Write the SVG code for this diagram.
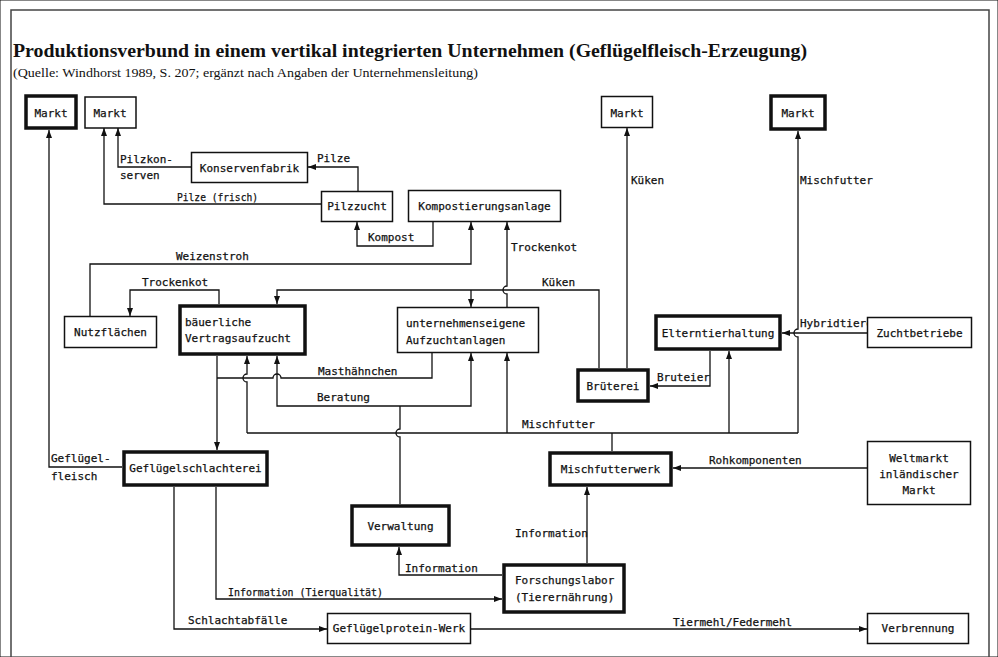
<svg xmlns="http://www.w3.org/2000/svg" width="998" height="657" viewBox="0 0 998 657">
<style>
text{font-family:"DejaVu Sans Mono","Liberation Mono",monospace;font-size:11px;fill:#111;stroke:#111;stroke-width:0.25}
.c{text-anchor:middle}
.title{font-family:"Liberation Serif","Times New Roman",serif;font-weight:bold;font-size:18px;stroke:none}
.sub{font-family:"Liberation Serif","Times New Roman",serif;font-size:12px;stroke:none}
rect{fill:#fff;stroke:#111}
.thin{stroke-width:1.5}
.thick{stroke-width:3.5}
#connectors path{fill:none;stroke:#111;stroke-width:1.3}
.frame{fill:none;stroke:#444;stroke-width:1.5}
</style>
<defs>
<marker id="a" markerWidth="8" markerHeight="6" refX="8" refY="3" orient="auto" markerUnits="userSpaceOnUse"><path d="M0,0 L8,3 L0,6 z" fill="#111"/></marker>
</defs>
<rect width="998" height="657" fill="#fff" stroke="none"/>
<path class="frame" d="M11,657 V10 H989 V657"/>
<text class="title" x="13" y="57" textLength="794" lengthAdjust="spacingAndGlyphs">Produktionsverbund in einem vertikal integrierten Unternehmen (Geflügelfleisch-Erzeugung)</text>
<text class="sub" x="13" y="77" textLength="465" lengthAdjust="spacingAndGlyphs">(Quelle: Windhorst 1989, S. 207; ergänzt nach Angaben der Unternehmensleitung)</text>

<g id="connectors">
<path d="M122,467 H49 V130" marker-end="url(#a)"/>
<path d="M321,204 H104 V128" marker-end="url(#a)"/>
<path d="M191,167 H118 V128" marker-end="url(#a)"/>
<path d="M358,191 V167 H308" marker-end="url(#a)"/>
<path d="M433,222 V246 H357 V222" marker-end="url(#a)"/>
<path d="M90,316 V264 H471 V222" marker-end="url(#a)"/>
<path d="M507,307 V294 a4,4 0 0 1 0,-8 V222" marker-end="url(#a)"/>
<path d="M599,368 V290 H277 V304" marker-end="url(#a)"/>
<path d="M471,290 V307" marker-end="url(#a)"/>
<path d="M219,304 V290 H130 V316" marker-end="url(#a)"/>
<path d="M627,368 V128" marker-end="url(#a)"/>
<path d="M798,433 V337 a4,4 0 0 1 0,-8 V131" marker-end="url(#a)"/>
<path d="M867,333 H782" marker-end="url(#a)"/>
<path d="M710,351 V386 H650" marker-end="url(#a)"/>
<path d="M612,451 V433"/>
<path d="M247,433 H798"/>
<path d="M729,433 V351" marker-end="url(#a)"/>
<path d="M507,433 V353" marker-end="url(#a)"/>
<path d="M247,433 V382 a4,4 0 0 1 0,-8 V356" marker-end="url(#a)"/>
<path d="M432,353 V378 H281 a4,4 0 0 0 -8,0 H217"/>
<path d="M217,356 V450" marker-end="url(#a)"/>
<path d="M400,504 V437 a4,4 0 0 1 0,-8 V406"/>
<path d="M400,406 H277 V356" marker-end="url(#a)"/>
<path d="M400,406 H471 V353" marker-end="url(#a)"/>
<path d="M502,575 H399 V547" marker-end="url(#a)"/>
<path d="M216,487 V599 H502" marker-end="url(#a)"/>
<path d="M174,487 V629 H327" marker-end="url(#a)"/>
<path d="M471,629 H867" marker-end="url(#a)"/>
<path d="M587,563 V487" marker-end="url(#a)"/>
<path d="M867,468 H673" marker-end="url(#a)"/>
</g>

<g id="labels">
<text x="51" y="462">Geflügel-</text>
<text x="51" y="480">fleisch</text>
<text x="177" y="201" textLength="81" lengthAdjust="spacingAndGlyphs">Pilze (frisch)</text>
<text x="120" y="163">Pilzkon-</text>
<text x="120" y="179">serven</text>
<text x="317" y="162">Pilze</text>
<text x="368" y="241">Kompost</text>
<text x="176" y="260">Weizenstroh</text>
<text x="511" y="251">Trockenkot</text>
<text x="542" y="286">Küken</text>
<text x="142" y="286">Trockenkot</text>
<text x="631" y="184">Küken</text>
<text x="800" y="184">Mischfutter</text>
<text x="800" y="327">Hybridtiere</text>
<text x="657" y="381">Bruteier</text>
<text x="318" y="375">Masthähnchen</text>
<text x="317" y="401">Beratung</text>
<text x="522" y="428">Mischfutter</text>
<text x="709" y="464">Rohkomponenten</text>
<text x="515" y="537">Information</text>
<text x="405" y="572">Information</text>
<text x="228" y="596" textLength="155" lengthAdjust="spacingAndGlyphs">Information (Tierqualität)</text>
<text x="188" y="624">Schlachtabfälle</text>
<text x="673" y="626">Tiermehl/Federmehl</text>
</g>

<g id="markt1"><rect class="thick" x="26" y="96" width="50" height="32"/><text class="c" x="51" y="117">Markt</text></g>
<g id="markt2"><rect class="thin" x="85" y="97" width="51" height="31"/><text class="c" x="110" y="117">Markt</text></g>
<g id="konservenfabrik"><rect class="thin" x="191.5" y="152.5" width="116" height="30"/><text class="c" x="249.5" y="172">Konservenfabrik</text></g>
<g id="pilzzucht"><rect class="thin" x="321.5" y="191.5" width="71" height="30"/><text class="c" x="357" y="210">Pilzzucht</text></g>
<g id="kompostierungsanlage"><rect class="thin" x="408.5" y="190.5" width="152" height="31"/><text class="c" x="484.5" y="210">Kompostierungsanlage</text></g>
<g id="markt3"><rect class="thin" x="601.5" y="96.5" width="51" height="31"/><text class="c" x="627" y="117">Markt</text></g>
<g id="markt4"><rect class="thick" x="771" y="96" width="54" height="33"/><text class="c" x="798" y="117">Markt</text></g>
<g id="elterntierhaltung"><rect class="thick" x="656" y="316" width="124" height="33"/><text class="c" x="718" y="337">Elterntierhaltung</text></g>
<g id="zuchtbetriebe"><rect class="thin" x="867.5" y="317.5" width="104" height="30"/><text class="c" x="919.5" y="337">Zuchtbetriebe</text></g>
<g id="nutzflaechen"><rect class="thin" x="64.5" y="316.5" width="92" height="31"/><text class="c" x="110.5" y="336">Nutzflächen</text></g>
<g id="vertragsaufzucht"><rect class="thick" x="180" y="306" width="125" height="48"/><text x="185" y="326">bäuerliche</text><text x="185" y="342">Vertragsaufzucht</text></g>
<g id="aufzuchtanlagen"><rect class="thin" x="397.5" y="307.5" width="141" height="45"/><text x="406" y="327">unternehmenseigene</text><text x="406" y="344">Aufzuchtanlagen</text></g>
<g id="brueterei"><rect class="thick" x="578" y="370" width="70" height="31"/><text class="c" x="613" y="390">Brüterei</text></g>
<g id="schlachterei"><rect class="thick" x="124" y="452" width="143" height="33"/><text class="c" x="195.5" y="472">Geflügelschlachterei</text></g>
<g id="mischfutterwerk"><rect class="thick" x="550" y="453" width="121" height="32"/><text class="c" x="610.5" y="473">Mischfutterwerk</text></g>
<g id="weltmarkt"><rect class="thin" x="867.5" y="441.5" width="103" height="63"/><text class="c" x="919" y="462">Weltmarkt</text><text class="c" x="919" y="478">inländischer</text><text class="c" x="919" y="494">Markt</text></g>
<g id="verwaltung"><rect class="thick" x="352" y="506" width="97" height="39"/><text class="c" x="400.5" y="530">Verwaltung</text></g>
<g id="forschungslabor"><rect class="thick" x="504" y="565" width="120" height="47"/><text x="515" y="584">Forschungslabor</text><text x="515" y="601">(Tierernährung)</text></g>
<g id="proteinwerk"><rect class="thin" x="327.5" y="613.5" width="143" height="30"/><text class="c" x="399" y="632">Geflügelprotein-Werk</text></g>
<g id="verbrennung"><rect class="thin" x="867.5" y="613.5" width="101" height="30"/><text class="c" x="918" y="632">Verbrennung</text></g>
</svg>
